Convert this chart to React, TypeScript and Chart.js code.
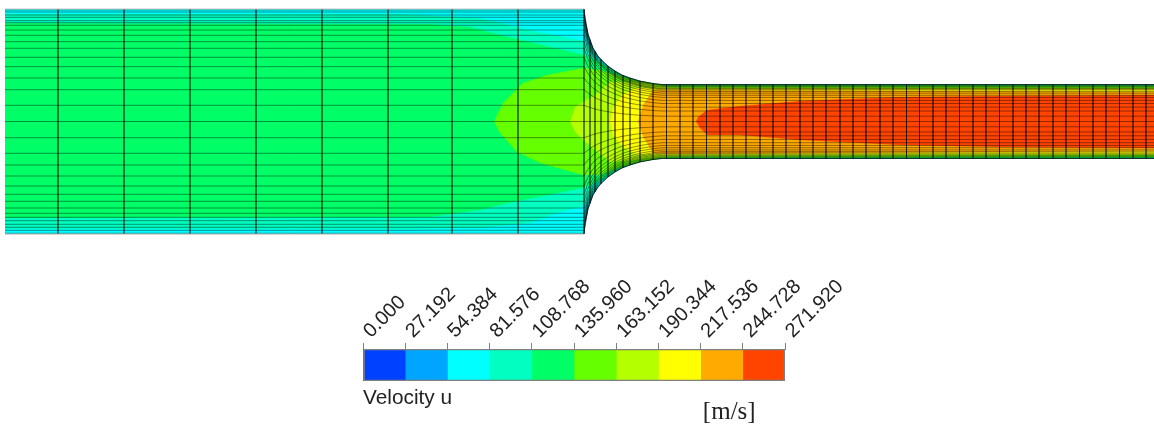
import React, { useEffect, useRef } from "react";
import { Chart, registerables } from "chart.js";

Chart.register(...registerables);

const W = 1154;
const H = 425;
const CY = 121.5;

// --- colour bar ---
const tickValues = [0, 27.192, 54.384, 81.576, 108.768, 135.96, 163.152, 190.344, 217.536, 244.728, 271.92];
const tickLabels = ["0.000", "27.192", "54.384", "81.576", "108.768", "135.960", "163.152", "190.344", "217.536", "244.728", "271.920"];
const bandColors = ["#0040ff", "#00a5ff", "#00ffff", "#00ffc0", "#00ff66", "#66ff00", "#b4ff00", "#ffff00", "#ffaa00", "#ff4400"];
const varName = "Velocity u";
const unitName = "[m/s]";

// --- duct wall (upper side; lower side mirrors about CY) ---
const wallX = [5, 584, 585, 588, 593, 598, 603, 608, 615, 622, 630, 640, 653, 662, 1154];
const wallY = [9, 9, 20, 34, 48, 56, 61.5, 66, 71, 75, 78, 81, 83.5, 84.5, 84.5];

// --- mesh ---
const inletColumns = [58, 124, 190, 256, 322, 388, 452, 518];
const nozzleColumns = [584, 590, 595, 601, 608, 615, 623, 630, 640, 653];
const outletColumns = [666.5, 680, 693, 706.5, 720, 733, 746, 760, 773, 786, 800, 813, 826, 840, 853, 866, 880, 893, 906.5, 919.5, 933, 946, 959.5, 973, 986, 999.5, 1013, 1026, 1039, 1053, 1066, 1079.5, 1093, 1106, 1119.5, 1133, 1146];
const rowStations = [584, 588, 593, 598, 603, 608, 615, 622, 630, 640, 653, 662];
const rowLevels = [10, 12, 15, 17.3, 20.7, 22.7, 25.3, 30, 35.3, 41.7, 48.3, 57.3, 66.7, 78, 89.7, 105.3, 121.5, 137.7, 153.3, 165, 176, 186, 194.3, 201.3, 208, 213.3, 217.3, 220.7, 224.3, 227.3, 230.3, 233.3];

// --- contour bands: upper and lower edge of "velocity above this level" ---
const mintUpper: number[][] = [[5, 14], [400, 14], [480, 18], [530, 30], [584, 41], [592, 50], [600, 62], [612, 69], [622, 75], [640, 81], [662, 84.5], [1154, 84.5]];
const mintLower: number[][] = [[5, 229], [400, 229], [480, 228], [530, 223], [557, 213], [584, 206], [592, 193], [600, 181], [612, 174], [622, 168], [640, 162], [662, 158.5], [1154, 158.5]];
const greenUpper: number[][] = [[5, 23], [430, 24], [470, 27], [500, 35], [584, 55], [598, 61], [615, 72], [625, 77], [640, 81.5], [662, 85], [1154, 85]];
const greenLower: number[][] = [[5, 218], [430, 217], [480, 210], [513, 202], [583, 188], [598, 182], [615, 171], [625, 166], [640, 161.5], [662, 158], [1154, 158]];
const limeUpper: number[][] = [[494, 121.5], [503, 103], [523, 83], [547, 75], [583, 68], [600, 70], [620, 76], [640, 81.5], [665, 85.5], [1154, 86]];
const limeLower: number[][] = [[494, 121.5], [500, 133], [517, 152], [540, 163], [583, 175], [600, 175], [620, 167], [640, 161.5], [665, 157.5], [1154, 157]];
const chartreuseUpper: number[][] = [[570, 121.5], [575, 107], [583, 102], [595, 95], [610, 82], [630, 82], [650, 84], [670, 87.5], [1154, 88]];
const chartreuseLower: number[][] = [[570, 121.5], [575, 132], [583, 140], [595, 150], [610, 162], [630, 160.5], [650, 158], [670, 156.5], [1154, 155]];
const yellowUpper: number[][] = [[610, 121.5], [613, 108], [622, 95], [636, 88], [660, 88.5], [1154, 89]];
const yellowLower: number[][] = [[610, 121.5], [613, 135], [622, 146], [636, 154], [660, 154.5], [1154, 154]];
const orangeUpper: number[][] = [[638, 121.5], [643, 105], [653, 90], [665, 90], [1154, 92]];
const orangeLower: number[][] = [[638, 121.5], [643, 137], [653, 153], [665, 154], [1154, 151]];
const redUpper: number[][] = [[696, 121.5], [698, 117], [707, 110], [740, 106], [800, 101], [900, 97], [1000, 96], [1154, 95]];
const redLower: number[][] = [[696, 121.5], [700, 128], [707, 135], [740, 135], [800, 140], [900, 145], [1000, 147], [1154, 148]];

const bands: [number[][], number[][], string][] = [
  [mintUpper, mintLower, bandColors[3]],
  [greenUpper, greenLower, bandColors[4]],
  [limeUpper, limeLower, bandColors[5]],
  [chartreuseUpper, chartreuseLower, bandColors[6]],
  [yellowUpper, yellowLower, bandColors[7]],
  [orangeUpper, orangeLower, bandColors[8]],
  [redUpper, redLower, bandColors[9]],
];

const LINE = "rgba(0,0,0,0.42)";

function wallAt(x: number) {
  for (let i = 1; i < wallX.length; i++) {
    if (x <= wallX[i]) {
      const t = (x - wallX[i - 1]) / (wallX[i] - wallX[i - 1]);
      return wallY[i - 1] + t * (wallY[i] - wallY[i - 1]);
    }
  }
  return wallY[wallY.length - 1];
}

function polygon(up: number[][], low: number[][]) {
  const pts = [...up, ...[...low].reverse()].map(([x, y]) => ({ x, y }));
  pts.push(pts[0]);
  return pts;
}

// A mesh row keeps its inlet height at the nozzle entry and reaches its scaled
// outlet height at the throat; rows near the axis bend later than rows near the wall.
function rowY(level: number, x: number) {
  const inletHalf = CY - wallY[0];
  const throatHalf = CY - wallY[wallY.length - 1];
  const f = (level - CY) / inletHalf;
  const s = (inletHalf - (CY - wallAt(x))) / (inletHalf - throatHalf);
  const bent = Math.pow(s, 2 - Math.abs(f));
  return level + (CY + f * throatHalf - level) * bent;
}

function buildDuctDatasets() {
  const sets: any[] = [];
  const fillSet = (data: any[], color: string) => ({
    data, backgroundColor: color, borderWidth: 0, borderColor: color, fill: "shape", showLine: true, pointRadius: 0, tension: 0,
  });
  const lineSet = (data: any[], color = LINE, width = 1) => ({
    data, borderColor: color, borderWidth: width, fill: false, showLine: true, pointRadius: 0, tension: 0,
  });
  const top = wallX.map((x, i) => [x, wallY[i]]);
  const bottom = wallX.map((x, i) => [x, 2 * CY - wallY[i]]);
  sets.push(fillSet(polygon(top, bottom), bandColors[2]));
  for (const [u, l, c] of bands) sets.push(fillSet(polygon(u, l), c));

  for (const x of [...inletColumns, ...nozzleColumns, ...outletColumns]) {
    const w = wallAt(x);
    sets.push(lineSet([{ x, y: w }, { x, y: 2 * CY - w }]));
  }
  const stations = [5, ...rowStations, 1154];
  for (const y of rowLevels) {
    sets.push(lineSet(stations.map((x) => ({ x, y: x <= 584 ? y : rowY(y, x) }))));
  }
  // wall edges
  sets.push(lineSet(top.slice(0, 2).map(([x, y]) => ({ x, y })), "#c4c4c4", 1));
  sets.push(lineSet(bottom.slice(0, 2).map(([x, y]) => ({ x, y })), "#b0b0b0", 1));
  sets.push(lineSet(top.slice(1).map(([x, y]) => ({ x, y })), "rgba(0,0,0,0.7)", 1));
  sets.push(lineSet(bottom.slice(1).map(([x, y]) => ({ x, y })), "rgba(0,0,0,0.7)", 1));
  // Chart.js paints the first dataset last, so the stack goes in reverse.
  return sets.reverse();
}

const captions = {
  id: "captions",
  afterDraw(chart: any) {
    const { ctx, scales } = chart;
    ctx.save();
    ctx.fillStyle = "#222";
    ctx.textBaseline = "alphabetic";
    ctx.textAlign = "left";
    ctx.font = "20.8px 'Liberation Sans'";
    ctx.fillText(varName, scales.x.getPixelForValue(0), 404);
    ctx.font = "25px 'Liberation Serif'";
    ctx.fillText(unitName, scales.x.getPixelForValue(219), 419);
    ctx.restore();
  },
};

export default function App() {
  const a = useRef<HTMLCanvasElement>(null);
  const b = useRef<HTMLCanvasElement>(null);
  useEffect(() => {
    const duct = new Chart(a.current!, {
      type: "scatter",
      data: { datasets: buildDuctDatasets() },
      options: {
        animation: false,
        responsive: false,
        layout: { padding: 0 },
        plugins: { legend: { display: false }, tooltip: { enabled: false } },
        scales: {
          x: { type: "linear", min: 0, max: W, display: false },
          y: { type: "linear", min: 0, max: H, reverse: true, display: false },
        },
      },
    } as any);
    const outline = { label: "outline", data: [[tickValues[0], tickValues[10]]], backgroundColor: "transparent", borderColor: "#808080", borderWidth: 1, borderSkipped: false };
    const bar = new Chart(b.current!, {
      type: "bar",
      data: {
        labels: [varName],
        datasets: [
          outline,
          ...bandColors.map((c, i) => ({ label: tickLabels[i], data: [[tickValues[i], tickValues[i + 1]]], backgroundColor: c, borderWidth: 0 })),
        ],
      },
      options: {
        indexAxis: "y",
        animation: false,
        responsive: false,
        layout: { padding: { left: 363, right: 369, bottom: 44, top: 0 } },
        plugins: { legend: { display: false }, tooltip: { enabled: false } },
        datasets: { bar: { grouped: false, barPercentage: 1, categoryPercentage: 1 } },
        scales: {
          x: {
            type: "linear",
            position: "top",
            min: 0,
            max: 271.92,
            afterBuildTicks: (s: any) => { s.ticks = tickValues.map((value) => ({ value })); },
            afterFit: (s: any) => { s.height = 349; },
            grid: { display: true, drawOnChartArea: false, drawTicks: true, tickLength: 6, color: "#808080" },
            border: { display: true, color: "#808080" },
            ticks: {
              autoSkip: false,
              minRotation: 45,
              maxRotation: 45,
              padding: 0,
              labelOffset: 21,
              color: "#222",
              font: { family: "'Liberation Sans'", size: 20 },
              callback: (_v: any, i: number) => tickLabels[i],
            },
          },
          y: { type: "category", display: false, offset: true },
        },
      },
      plugins: [captions],
    } as any);
    return () => { duct.destroy(); bar.destroy(); };
  }, []);
  const st: React.CSSProperties = { position: "absolute", left: 0, top: 0, display: "block", width: W, height: H };
  return (
    <div style={{ position: "absolute", left: 0, top: 0, width: W, height: H, background: "#fff" }}>
      <canvas ref={a} width={W} height={H} style={st} />
      <canvas ref={b} width={W} height={H} style={st} />
    </div>
  );
}
